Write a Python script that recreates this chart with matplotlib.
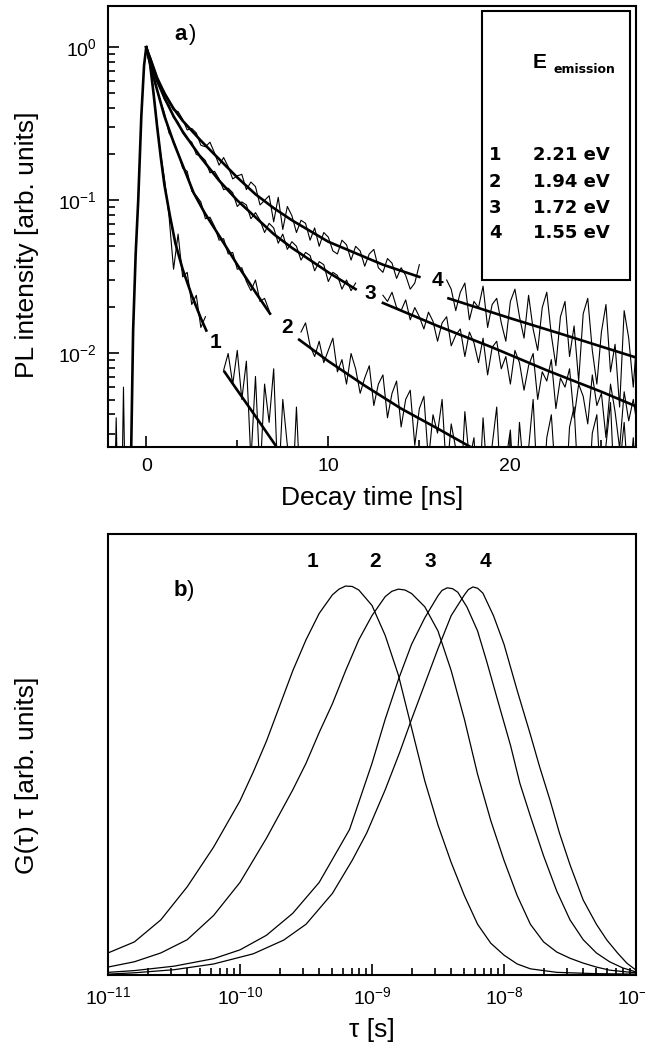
import numpy as np
import matplotlib
matplotlib.use('Agg')
import matplotlib.pyplot as plt
from matplotlib.patches import Rectangle
from matplotlib.ticker import (LogLocator, MultipleLocator, NullFormatter, NullLocator,
                               FixedLocator, LogFormatterSciNotation)

plt.rcParams['font.family'] = ['Liberation Sans', 'DejaVu Sans']
plt.rcParams['mathtext.fontset'] = 'custom'
plt.rcParams['mathtext.rm'] = 'Liberation Sans'
plt.rcParams['mathtext.it'] = 'Liberation Sans:italic'
plt.rcParams['mathtext.bf'] = 'Liberation Sans:bold'

# ---------------- panel a) : PL decays (log10 of intensity) ----------------
DT = 0.25  # ns, sampling step of the measured traces

# common rise and baseline before the pulse
rise_t = [-0.85, -0.72, -0.58, -0.44, -0.27, -0.12, 0.0]
rise_log = [-2.8, -1.85, -1.35, -1.0, -0.45, -0.12, 0.0]
base_t = [-2.1, -1.75, -1.65, -1.55, -1.35, -1.25, -1.15, -1.0, -0.85]
base_log = [-3.0, -3.0, -2.42, -3.0, -3.0, -2.22, -3.0, -3.0, -3.0]

# measured traces (first part starts at 0 ns, tails start later)
data1_main = [0.00, -0.14, -0.40, -0.66, -0.86, -1.10, -1.45, -1.22, -1.50, -1.47,
              -1.68, -1.62, -1.83, -1.76]
data1_tail_t0 = 4.25
data1_tail = [-2.11, -2.00, -2.20, -1.98, -2.30, -2.05, -2.70, -2.15, -2.80, -2.20,
              -2.45, -2.10, -2.90, -2.30, -2.60, -3.00, -2.35, -3.00, -2.90, -3.00]

data2_main = [0.00, -0.12, -0.24, -0.34, -0.43, -0.56, -0.61, -0.69, -0.79, -0.81,
              -0.94, -0.97, -1.01, -1.12, -1.11, -1.17, -1.26, -1.25, -1.35, -1.34,
              -1.45, -1.44, -1.53, -1.59, -1.52, -1.66, -1.64, -1.72]
data2_tail_t0 = 8.5
data2_tail = [-1.86, -1.80, -1.95, -2.02, -1.92, -2.06, -1.98, -1.90, -2.12, -2.04,
              -2.20, -2.00, -2.10, -2.26, -2.16, -2.08, -2.34, -2.20, -2.14, -2.42,
              -2.26, -2.18, -2.48, -2.30, -2.24, -2.60, -2.36, -2.28, -2.70, -2.40,
              -2.52, -2.30, -2.80, -2.46, -2.62, -2.95, -2.38, -2.70, -2.55, -3.00,
              -2.42, -2.85, -2.60, -2.35, -2.95, -2.70, -2.50, -3.00, -2.45, -2.80,
              -2.62, -2.30, -2.90, -3.00, -2.55, -2.40, -2.85, -2.65, -3.00, -2.48,
              -2.35, -2.90, -2.70, -3.00, -2.52, -2.40, -2.95, -2.60, -2.32, -3.00,
              -2.75, -2.45, -2.90, -2.55, -3.00]

data3_main = [0.00, -0.10, -0.19, -0.25, -0.34, -0.38, -0.46, -0.49, -0.56, -0.60,
              -0.62, -0.70, -0.71, -0.74, -0.82, -0.81, -0.86, -0.93, -0.92, -0.95,
              -1.04, -1.01, -1.03, -1.12, -1.08, -1.13, -1.21, -1.15, -1.18, -1.28,
              -1.22, -1.32, -1.27, -1.30, -1.39, -1.34, -1.36, -1.46, -1.40, -1.42,
              -1.53, -1.47, -1.49, -1.58, -1.52, -1.59, -1.54]
data3_tail_t0 = 13.0
data3_tail = [-1.62, -1.66, -1.60, -1.70, -1.72, -1.65, -1.78, -1.70, -1.76, -1.84,
              -1.73, -1.79, -1.92, -1.80, -1.76, -1.95, -1.88, -1.84, -2.02, -1.86,
              -1.93, -2.06, -1.90, -2.14, -1.96, -1.92, -2.10, -2.02, -2.20, -1.98,
              -2.06, -2.24, -2.08, -2.00, -2.30, -2.12, -2.18, -2.04, -2.36, -2.16,
              -2.22, -2.10, -2.42, -2.20, -2.28, -2.46, -2.14, -2.34, -2.26, -2.55,
              -2.20, -2.38, -2.62, -2.25, -2.44, -2.30, -2.50]

data4_main = [0.00, -0.07, -0.16, -0.25, -0.29, -0.36, -0.41, -0.42, -0.47, -0.54,
              -0.53, -0.56, -0.64, -0.65, -0.62, -0.69, -0.77, -0.72, -0.78, -0.86,
              -0.84, -0.83, -0.93, -0.88, -0.91, -1.03, -1.00, -0.97, -1.14, -0.98,
              -1.19, -1.04, -1.10, -1.21, -1.13, -1.15, -1.26, -1.18, -1.30, -1.21,
              -1.24, -1.33, -1.35, -1.26, -1.29, -1.39, -1.30, -1.33, -1.43, -1.35,
              -1.32, -1.44, -1.47, -1.38, -1.41, -1.51, -1.44, -1.49, -1.58, -1.54,
              -1.42]
data4_tail_t0 = 16.5
data4_tail = [-1.52, -1.58, -1.72, -1.60, -1.54, -1.78, -1.66, -1.70, -1.56, -1.83,
              -1.68, -1.64, -1.80, -1.92, -1.66, -1.58, -1.76, -1.90, -1.62, -1.84,
              -1.98, -1.70, -1.60, -1.88, -2.08, -1.76, -1.66, -2.02, -1.82, -2.18,
              -1.74, -1.64, -1.98, -2.20, -1.86, -1.68, -2.12, -1.94, -2.35, -1.72,
              -1.90, -2.22, -1.80]

# fitted curves (thick lines)
fit1_t = [0, 0.2, 0.4, 0.6, 0.8, 1.0, 1.3, 1.6, 2.0, 2.5, 3.0, 3.3]
fit1_log = [0, -0.1, -0.3, -0.52, -0.72, -0.9, -1.1, -1.28, -1.45, -1.62, -1.77, -1.85]
fit1_tail_t = [4.3, 5.0, 6.0, 7.1]
fit1_tail_log = [-2.12, -2.24, -2.41, -2.60]

fit2_t = [0, 0.3, 0.6, 1.0, 1.5, 2.0, 2.6, 3.2, 4.0, 5.0, 6.0, 6.8]
fit2_log = [0, -0.15, -0.28, -0.45, -0.62, -0.77, -0.95, -1.08, -1.23, -1.42, -1.6, -1.74]
fit2_tail_t = [8.4, 10, 12, 14, 16, 17.8]
fit2_tail_log = [-1.91, -2.05, -2.21, -2.36, -2.49, -2.61]

fit3_t = [0, 0.3, 0.6, 1.0, 1.5, 2.0, 3.0, 4.0, 5.0, 6.0, 7.0, 8.0, 9.0, 10.0, 11.5]
fit3_log = [0, -0.12, -0.22, -0.33, -0.45, -0.55, -0.72, -0.87, -1.0, -1.11, -1.22,
            -1.31, -1.39, -1.47, -1.58]
fit3_tail_t = [13.0, 16, 19, 22, 25, 27.0]
fit3_tail_log = [-1.67, -1.82, -1.96, -2.11, -2.25, -2.35]

fit4_t = [0, 0.3, 0.6, 1.0, 1.5, 2.0, 3.0, 4.0, 5.0, 6.0, 7.0, 8.0, 9.0, 10.0, 11.0,
          12.0, 13.0, 14.0, 15.0]
fit4_log = [0, -0.1, -0.2, -0.3, -0.4, -0.48, -0.61, -0.73, -0.85, -0.96, -1.05, -1.13,
            -1.2, -1.27, -1.32, -1.37, -1.42, -1.46, -1.5]
fit4_tail_t = [16.6, 20, 23, 27.0]
fit4_tail_log = [-1.64, -1.77, -1.88, -2.03]

energies = ['2.21 eV', '1.94 eV', '1.72 eV', '1.55 eV']
curve_ids = ['1', '2', '3', '4']
# curve label positions in panel a) (ns, intensity)
label_a_t = [3.8, 7.75, 12.3, 16.0]
label_a_y = [0.0118, 0.0148, 0.0247, 0.030]

# ---------------- panel b) : lifetime distributions ----------------
tau_ticks = [1e-11, 1e-10, 1e-9, 1e-8, 1e-7]

g1_logtau = [-11.0, -10.8, -10.6, -10.4, -10.2, -10.0, -9.9, -9.8, -9.7, -9.6,
             -9.5, -9.4, -9.3, -9.25, -9.2, -9.15, -9.1, -9.0, -8.9, -8.8, -8.7, -8.6,
             -8.5, -8.4, -8.3, -8.2, -8.1, -8.0, -7.9, -7.8, -7.6, -7.3, -7.0]
g1 = [0.050, 0.075, 0.125, 0.200, 0.290, 0.395, 0.46, 0.53, 0.61, 0.69,
      0.76, 0.82, 0.862, 0.875, 0.882, 0.881, 0.873, 0.838, 0.77, 0.68, 0.56, 0.44,
      0.34, 0.255, 0.18, 0.115, 0.072, 0.045, 0.025, 0.014, 0.006, 0.003, 0.002]

g2_logtau = [-11.0, -10.8, -10.6, -10.4, -10.2, -10.0, -9.8, -9.6, -9.5, -9.4,
             -9.3, -9.2, -9.1, -9.0, -8.9, -8.85, -8.8, -8.75, -8.7, -8.6, -8.5, -8.4,
             -8.3, -8.2, -8.1, -8.0, -7.9, -7.8, -7.7, -7.6, -7.5, -7.4,
             -7.3, -7.2, -7.07, -7.0]
g2 = [0.018, 0.030, 0.050, 0.080, 0.135, 0.21, 0.31, 0.42, 0.48, 0.55,
      0.615, 0.69, 0.76, 0.815, 0.858, 0.870, 0.875, 0.873, 0.865, 0.835, 0.78, 0.69,
      0.58, 0.455, 0.35, 0.26, 0.18, 0.115, 0.075, 0.052, 0.038, 0.027,
      0.018, 0.011, 0.007, 0.005]

g3_logtau = [-11.0, -10.8, -10.5, -10.2, -10.0, -9.8, -9.6, -9.4, -9.17, -9.0,
             -8.9, -8.8, -8.7, -8.6, -8.5, -8.47, -8.43, -8.39, -8.35, -8.28, -8.2,
             -8.13, -8.05, -7.95, -7.88, -7.8, -7.7, -7.6, -7.5, -7.4, -7.3, -7.2,
             -7.1, -7.0]
g3 = [0.006, 0.010, 0.020, 0.037, 0.057, 0.09, 0.14, 0.21, 0.33, 0.48,
      0.58, 0.67, 0.75, 0.81, 0.86, 0.872, 0.878, 0.876, 0.868, 0.834, 0.78,
      0.71, 0.625, 0.52, 0.435, 0.36, 0.27, 0.19, 0.125, 0.08, 0.05, 0.03,
      0.016, 0.007]

g4_logtau = [-11.0, -10.8, -10.5, -10.2, -9.9, -9.67, -9.5, -9.3, -9.15, -9.04,
             -8.9, -8.79, -8.7, -8.6, -8.5, -8.4, -8.3, -8.27, -8.235, -8.2, -8.16,
             -8.08, -8.0, -7.9, -7.8, -7.73, -7.65, -7.58, -7.5, -7.4, -7.3, -7.22,
             -7.14, -7.07, -7.0]
g4 = [0.002, 0.005, 0.012, 0.025, 0.048, 0.079, 0.115, 0.185, 0.26, 0.322,
      0.42, 0.505, 0.58, 0.66, 0.74, 0.815, 0.862, 0.874, 0.880, 0.877, 0.866,
      0.815, 0.75, 0.645, 0.545, 0.472, 0.395, 0.322, 0.25, 0.17, 0.115, 0.079,
      0.05, 0.027, 0.011]

label_b_logtau = [-9.447, -8.977, -8.561, -8.144]


def trace_t(t0, vals):
    return t0 + DT * np.arange(len(vals))


fig = plt.figure(figsize=(6.45, 10.48), dpi=100)
W, H = 645.0, 1048.0
ax1 = fig.add_axes([108 / W, 1 - 447 / H, 528 / W, 441 / H])
ax2 = fig.add_axes([108 / W, 1 - 975 / H, 528 / W, 441 / H])

thin = dict(color='black', lw=0.8)
thick = dict(color='black', lw=1.9)

# baseline noise and rise
ax1.plot(base_t, 10 ** np.array(base_log), **thin)
ax1.plot(rise_t, 10 ** np.array(rise_log), **thick)

# measured data
mains = [data1_main, data2_main, data3_main, data4_main]
tails = [(data1_tail_t0, data1_tail), (data2_tail_t0, data2_tail),
         (data3_tail_t0, data3_tail), (data4_tail_t0, data4_tail)]
for vals in mains:
    ax1.plot(trace_t(0.0, vals), 10 ** np.array(vals), **thin)
for t0, vals in tails:
    ax1.plot(trace_t(t0, vals), 10 ** np.array(vals), **thin)

# fits
fits = [(fit1_t, fit1_log), (fit1_tail_t, fit1_tail_log),
        (fit2_t, fit2_log), (fit2_tail_t, fit2_tail_log),
        (fit3_t, fit3_log), (fit3_tail_t, fit3_tail_log),
        (fit4_t, fit4_log), (fit4_tail_t, fit4_tail_log)]
for ft, fl in fits:
    ax1.plot(ft, 10 ** np.array(fl), **thick)

ax1.set_yscale('log')
ax1.set_xlim(-2.1, 26.9)
ax1.set_ylim(0.00245, 1.86)
ax1.xaxis.set_major_locator(MultipleLocator(10))
ax1.xaxis.set_minor_locator(MultipleLocator(5))
ax1.yaxis.set_major_locator(FixedLocator([1e-2, 1e-1, 1e0]))
ax1.yaxis.set_major_formatter(LogFormatterSciNotation())
ax1.yaxis.set_minor_locator(LogLocator(base=10, subs=np.arange(2, 10), numticks=10))
ax1.yaxis.set_minor_formatter(NullFormatter())
ax1.tick_params(which='both', direction='in', top=False, right=False,
                labelsize=14, width=1.2, pad=8)
ax1.tick_params(which='major', length=8)
ax1.tick_params(which='minor', length=5)
for sp in ax1.spines.values():
    sp.set_linewidth(1.5)

ax1.set_xlabel('Decay time [ns]', fontsize=19)
ax1.xaxis.set_label_coords(0.5, -0.088)
ax1.set_ylabel('PL intensity [arb. units]', fontsize=19)
ax1.yaxis.set_label_coords(-0.13, 0.458)

ax1.text(1.87, 1.22, 'a', fontsize=16, fontweight='bold', ha='center', va='center')
ax1.text(2.55, 1.22, ')', fontsize=16, ha='center', va='center')
for lab, tx, ty in zip(curve_ids, label_a_t, label_a_y):
    ax1.text(tx, ty, lab, fontsize=15, fontweight='bold', ha='center', va='center')

# legend box
ax1.add_patch(Rectangle((0.708, 0.379), 0.281, 0.610, transform=ax1.transAxes,
                        facecolor='white', edgecolor='black', lw=1.5, zorder=5))
ax1.text(0.818, 0.871, 'E', transform=ax1.transAxes, fontsize=15, fontweight='bold',
         ha='center', va='center', zorder=6)
ax1.text(0.843, 0.856, 'emission', transform=ax1.transAxes, fontsize=9,
         fontweight='bold', ha='left', va='center', zorder=6,
         family=['DejaVu Sans'])
row_y = [0.662, 0.601, 0.542, 0.485]
for lab, en, ry in zip(curve_ids, energies, row_y):
    ax1.text(0.733, ry, lab, transform=ax1.transAxes, fontsize=13,
             fontweight='bold', ha='center', va='center', zorder=6,
             family=['DejaVu Sans'])
    ax1.text(0.805, ry, en, transform=ax1.transAxes, fontsize=13,
             fontweight='bold', ha='left', va='center', zorder=6,
             family=['DejaVu Sans'])

# ---------------- panel b) ----------------
for lt, g in [(g1_logtau, g1), (g2_logtau, g2), (g3_logtau, g3), (g4_logtau, g4)]:
    ax2.plot(10 ** np.array(lt), g, color='black', lw=0.9)

ax2.set_xscale('log')
ax2.set_xlim(1e-11, 1e-7)
ax2.set_ylim(0, 1.0)
ax2.yaxis.set_major_locator(NullLocator())
ax2.xaxis.set_major_locator(FixedLocator(tau_ticks))
ax2.xaxis.set_major_formatter(LogFormatterSciNotation())
ax2.xaxis.set_minor_locator(LogLocator(base=10, subs=np.arange(2, 10), numticks=10))
ax2.xaxis.set_minor_formatter(NullFormatter())
ax2.tick_params(which='both', direction='in', top=False, right=False,
                labelsize=14, width=1.2, pad=8)
ax2.tick_params(which='major', length=8)
ax2.tick_params(which='minor', length=5)
for sp in ax2.spines.values():
    sp.set_linewidth(1.5)

ax2.set_xlabel('τ [s]', fontsize=19)
ax2.xaxis.set_label_coords(0.5, -0.097)
ax2.set_ylabel('G(τ) τ [arb. units]', fontsize=19)
ax2.yaxis.set_label_coords(-0.13, 0.4535)

ax2.text(10 ** -10.455, 0.873, 'b', fontsize=16, fontweight='bold', ha='center', va='center')
ax2.text(10 ** -10.40, 0.873, ')', fontsize=16, ha='left', va='center')
for lab, lt in zip(curve_ids, label_b_logtau):
    ax2.text(10 ** lt, 0.937, lab, fontsize=15, fontweight='bold', ha='center', va='center')

fig.savefig('out.png', dpi=100)
